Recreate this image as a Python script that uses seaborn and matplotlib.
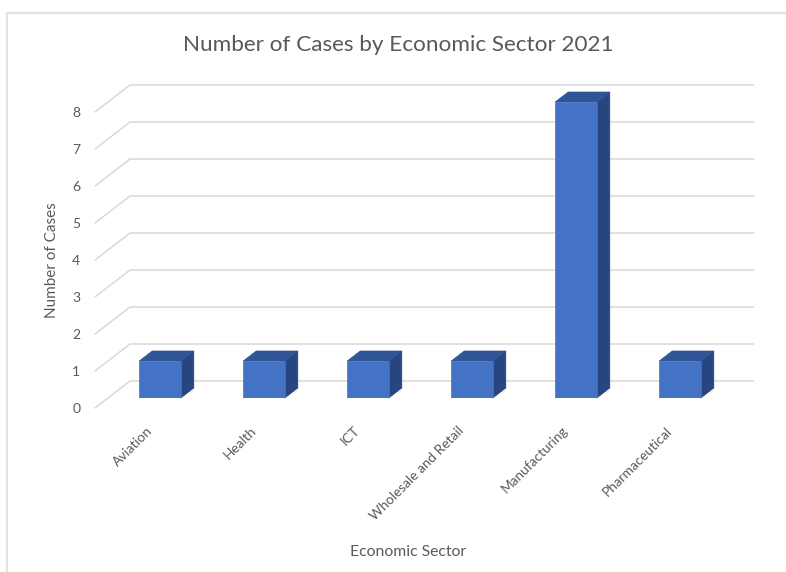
import numpy as np
import pandas as pd
import matplotlib
matplotlib.use("Agg")
import matplotlib.pyplot as plt
import seaborn as sns
from matplotlib.transforms import ScaledTranslation, IdentityTransform
from matplotlib.patches import Polygon
from matplotlib.lines import Line2D

# ---- data ----
sectors = ["Aviation", "Health", "ICT", "Wholesale and Retail", "Manufacturing", "Pharmaceutical"]
cases = [1, 1, 1, 1, 8, 1]
y_ticks = [0, 1, 2, 3, 4, 5, 6, 7, 8]
title = "Number of Cases by Economic Sector 2021"
x_label = "Economic Sector"
y_label = "Number of Cases"

sns.set_theme(style="white")
plt.rcParams['font.family'] = ['Lato', 'DejaVu Sans']

W, H = 786, 572
DPI = 100
TXT = "#595959"
GRID = "#d9d9d9"
FRONT = "#4472C4"
TOP = "#2F5597"
SIDE = "#27467F"

fig = plt.figure(figsize=(W / DPI, H / DPI), dpi=DPI)
fig.patch.set_facecolor("white")

# axes = the plane of the bar fronts
ax = fig.add_axes([108 / W, (H - 398) / H, 624 / W, 333 / H])
df = pd.DataFrame({"Sector": sectors, "Cases": cases})
sns.barplot(data=df, x="Sector", y="Cases", color=FRONT, saturation=1,
            width=0.4, ax=ax, zorder=3)
ax.set_xlim(-0.5, len(sectors) - 0.5)
ax.set_ylim(0, 9)
for s in ax.spines.values():
    s.set_visible(False)
ax.grid(False)
ax.set_facecolor("none")

px = lambda dx, dy: ScaledTranslation(dx / DPI, dy / DPI, fig.dpi_scale_trans)

# depth offsets (pixels): front floor plane, back wall plane, bar depth
FRONT_OFF = np.array([-13, -10])
BACK_OFF = np.array([22, 17])
DEPTH = np.array([13, 10])

T = ax.transData.transform
# gridlines (3D style: diagonal from front to back wall, then horizontal)
for v in y_ticks:
    p0 = T((-0.5, v)) + FRONT_OFF
    p1 = T((-0.5, v)) + BACK_OFF
    p2 = T((len(sectors) - 0.5, v)) + BACK_OFF
    xs = [p0[0], p1[0], p2[0]]
    ys = [p0[1], p1[1], p2[1]]
    ax.add_line(Line2D(xs, ys, transform=IdentityTransform(), color=GRID,
                       lw=1.1, zorder=1, clip_on=False))

# 3D faces for bars, derived from the seaborn bar rectangles
for rect in list(ax.patches):
    x0 = rect.get_x()
    x1 = x0 + rect.get_width()
    h = rect.get_height()
    tl, tr, br = T((x0, h)), T((x1, h)), T((x1, 0))
    side = Polygon([br, tr, tr + DEPTH, br + DEPTH], closed=True,
                   transform=IdentityTransform(), facecolor=SIDE,
                   edgecolor=SIDE, lw=0.5, zorder=2.5, clip_on=False)
    top = Polygon([tl, tr, tr + DEPTH, tl + DEPTH], closed=True,
                  transform=IdentityTransform(), facecolor=TOP,
                  edgecolor=TOP, lw=0.5, zorder=2.6, clip_on=False)
    ax.add_patch(side)
    ax.add_patch(top)
    rect.set_edgecolor(FRONT)
    rect.set_linewidth(0.5)

# ticks
ax.tick_params(axis="both", length=0)
ax.tick_params(axis="y", pad=20, labelsize=10, labelcolor=TXT)
ax.tick_params(axis="x", pad=22, labelsize=9.8, labelcolor=TXT)
ax.set_yticks(y_ticks)
ax.set_yticklabels([str(v) for v in y_ticks])
for lbl in ax.get_yticklabels():
    lbl.set_transform(lbl.get_transform() + px(0, -10))
ax.set_xticks(range(len(sectors)))
ax.set_xticklabels(sectors)
for lbl in ax.get_xticklabels():
    lbl.set_rotation(45)
    lbl.set_ha("right")
    lbl.set_va("center")
    lbl.set_rotation_mode("anchor")
    lbl.set_transform(lbl.get_transform() + px(-10, 0))

# axis labels
ax.set_xlabel(x_label, fontsize=11.3, color=TXT)
ax.set_ylabel(y_label, fontsize=11, color=TXT)
ax.xaxis.set_label_coords(408 / W, 1 - 545 / H, transform=fig.transFigure)
ax.yaxis.set_label_coords(59 / W, 1 - 260 / H, transform=fig.transFigure)

fig.text(398 / W, 1 - 45 / H, title, ha="center", va="center",
         fontsize=16.2, color=TXT)

# chart frame (top and left edges visible)
fig.add_artist(Line2D([7 / W, 1], [1 - 13 / H, 1 - 13 / H],
                      transform=fig.transFigure, color="#e3e3e3", lw=1.6))
fig.add_artist(Line2D([7 / W, 7 / W], [0, 1 - 13 / H],
                      transform=fig.transFigure, color="#e3e3e3", lw=1.6))

fig.savefig("out.png", dpi=DPI, facecolor="white")
